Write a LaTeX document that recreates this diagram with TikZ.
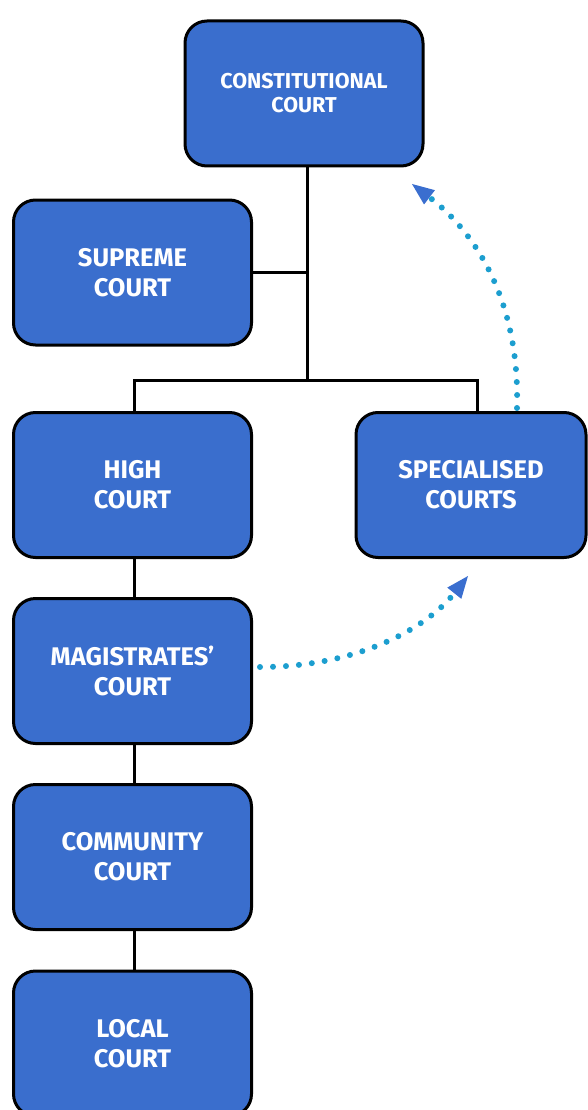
\documentclass[tikz,border=0pt]{standalone}
\usepackage{fontspec}
\newfontfamily\labfont{Fira Sans}
\usetikzlibrary{arrows.meta}
\definecolor{boxblue}{HTML}{3A6ECD}
\definecolor{dotblue}{HTML}{1C9ECF}
\definecolor{tipblue}{HTML}{3A6ECF}
\tikzset{
  court/.style={draw=black, line width=3pt, fill=boxblue, rounded corners=22pt,
    minimum width=238pt, minimum height=145pt, inner sep=0pt, align=center,
    text=white, font=\labfont\bfseries\fontsize{25.5}{30}\selectfont},
  smalltxt/.style={font=\labfont\bfseries\fontsize{21.5}{24}\selectfont},
  link/.style={draw=black, line width=3pt},
  dotarrow/.style={draw=dotblue, line width=6pt, line cap=round, dash pattern=on 0pt off 13pt,
    -{Triangle[length=22pt,width=18pt,color=tipblue,line width=0pt]}}
}
\begin{document}
\begin{tikzpicture}[x=1pt,y=-1pt]
\useasboundingbox (0,0) rectangle (587,1110);
\node[court, smalltxt] (const) at (304,93.5) {CONSTITUTIONAL\\COURT};
\node[court] (sup) at (132.5,272.5) {SUPREME\\COURT};
\node[court] (high) at (132.5,485) {HIGH\\COURT};
\node[court, minimum width=230pt] (spec) at (471,485) {SPECIALISED\\COURTS};
\node[court] (mag) at (132.5,671) {MAGISTRATES’\\COURT};
\node[court] (comm) at (132.5,857) {COMMUNITY\\COURT};
\node[court] (local) at (132.5,1043.5) {LOCAL\\COURT};
\coordinate (jm) at (307,380);
\coordinate (jl) at (134,380);
\coordinate (jr) at (477,380);
\draw[link] (jm |- const.south) -- (jm);
\draw[link] (sup.east) -- (sup.east -| jm);
\draw[link, line join=miter] (jl |- high.north) -- (jl) -- (jr) -- (jr |- spec.north);
\draw[link] (jl |- high.south) -- (jl |- mag.north);
\draw[link] (jl |- mag.south) -- (jl |- comm.north);
\draw[link] (jl |- comm.south) -- (jl |- local.north);
\coordinate (a1s) at (517,408);
\coordinate (a1e) at (412,184);
\draw[dotarrow] (a1s) .. controls (520,300) and (475,232) .. (a1e);
\coordinate (a2s) at (260,667);
\coordinate (a2e) at (468,576);
\draw[dotarrow] (a2s) .. controls (355,667) and (425,630) .. (a2e);
\end{tikzpicture}
\end{document}
